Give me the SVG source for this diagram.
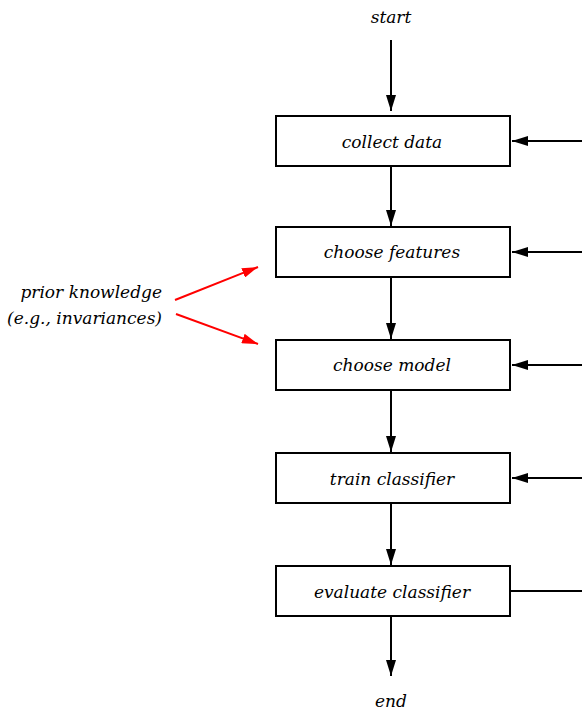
<svg xmlns="http://www.w3.org/2000/svg" width="582" height="713" viewBox="0 0 582 713">
<defs>
<style>
.box{fill:#fff;stroke:#000;stroke-width:2}
.t{font-family:'DejaVu Serif','Liberation Serif',serif;font-style:italic;font-size:17px;fill:#000}
.c{text-anchor:middle}
.e{text-anchor:end}
.k{stroke:#000;stroke-width:2;fill:none}
.r{stroke:#f00;stroke-width:2;fill:none}
</style>
<marker id="ak" viewBox="0 0 16 10" refX="16" refY="5" markerWidth="16" markerHeight="10" markerUnits="userSpaceOnUse" orient="auto"><path d="M0,0 L16,5 L0,10 Z" fill="#000"/></marker>
<marker id="ar" viewBox="0 0 16 10" refX="16" refY="5" markerWidth="16" markerHeight="10" markerUnits="userSpaceOnUse" orient="auto"><path d="M0,0 L16,5 L0,10 Z" fill="#f00"/></marker>
</defs>
<g id="connectors">
<line class="k" x1="391" y1="40" x2="391" y2="111" marker-end="url(#ak)"/>
<line class="k" x1="391" y1="167" x2="391" y2="226" marker-end="url(#ak)"/>
<line class="k" x1="391" y1="278" x2="391" y2="339" marker-end="url(#ak)"/>
<line class="k" x1="391" y1="391" x2="391" y2="452" marker-end="url(#ak)"/>
<line class="k" x1="391" y1="504" x2="391" y2="565" marker-end="url(#ak)"/>
<line class="k" x1="391" y1="617" x2="391" y2="676" marker-end="url(#ak)"/>
<line class="k" x1="582" y1="141" x2="512" y2="141" marker-end="url(#ak)"/>
<line class="k" x1="582" y1="252" x2="512" y2="252" marker-end="url(#ak)"/>
<line class="k" x1="582" y1="365" x2="512" y2="365" marker-end="url(#ak)"/>
<line class="k" x1="582" y1="478" x2="512" y2="478" marker-end="url(#ak)"/>
<line class="k" x1="510" y1="591" x2="582" y2="591"/>
<line class="r" x1="175" y1="300" x2="258" y2="267" marker-end="url(#ar)"/>
<line class="r" x1="176" y1="314" x2="258" y2="344" marker-end="url(#ar)"/>
</g>
<g id="start"><text class="t c" x="391" y="23">start</text></g>
<g id="end"><text class="t c" x="391" y="707">end</text></g>
<g id="prior"><text class="t e" x="162" y="298">prior knowledge</text><text class="t e" x="162" y="324">(e.g., invariances)</text></g>
<g id="collect"><rect class="box" x="276" y="116" width="234" height="50"/><text class="t c" x="392" y="148">collect data</text></g>
<g id="features"><rect class="box" x="276" y="227" width="234" height="50"/><text class="t c" x="392" y="258">choose features</text></g>
<g id="model"><rect class="box" x="276" y="340" width="234" height="50"/><text class="t c" x="392" y="371">choose model</text></g>
<g id="train"><rect class="box" x="276" y="453" width="234" height="50"/><text class="t c" x="392" y="485">train classifier</text></g>
<g id="evaluate"><rect class="box" x="276" y="566" width="234" height="50"/><text class="t c" x="392" y="598">evaluate classifier</text></g>
</svg>
